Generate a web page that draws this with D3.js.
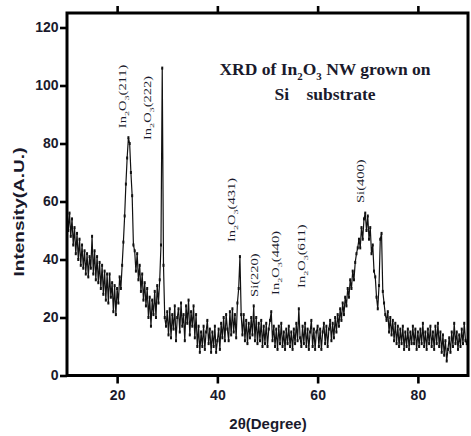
<!DOCTYPE html>
<html>
<head>
<meta charset="utf-8">
<script src="https://cdn.jsdelivr.net/npm/d3@7"></script>
<style>
  html, body { margin: 0; padding: 0; background: #fff; }
  svg { display: block; }
</style>
</head>
<body>
<svg id="chart" width="471" height="436"></svg>
<script>
// XRD scan of In2O3 nanowires on Si: intensity (a.u.), one reading every 0.25° of 2θ.
// Each block holds the 40 readings of one ten-degree span, starting at its label.
const scanStep = 0.25;
const scan10 = [57,50,56,48,54,45,51,42,49,40, 47,38,45,37,43,35,42,34,41,37,
                48,35,43,33,41,32,39,30,38,28, 36,26,35,25,35,27,32,22,31,21];
const scan20 = [30,25,34,30,38,46,55,66,75,82, 80,70,62,45,43,36,42,33,38,29,
                35,26,32,24,30,20,27,17,26,21, 29,20,31,25,33,45,106,38,20,17];
const scan30 = [22,14,23,13,21,16,24,12,20,23, 15,25,17,21,12,24,18,26,14,22,
                17,24,13,21,10,17,8,15,10,17, 9,15,19,11,16,8,15,10,17,8];
const scan40 = [12,16,9,18,13,20,12,21,16,12, 22,14,23,15,21,13,25,30,41,21,
                14,21,12,19,11,18,13,20,14,24, 12,20,11,18,12,19,10,17,11,18];
const scan50 = [10,16,19,22,12,17,10,16,9,17, 11,18,10,15,9,16,11,17,10,15,
                9,16,11,18,12,23,13,10,17,11, 18,10,16,9,15,19,10,16,9,15];
const scan60 = [17,10,16,9,15,18,11,17,10,16, 19,12,18,13,20,15,21,17,23,19,
                25,21,27,24,30,27,33,30,36,33, 39,42,44,47,44,51,47,54,56,50];
const scan70 = [55,47,51,42,45,36,34,27,23,31, 47,49,29,25,21,19,22,15,20,14,
                19,12,18,11,17,10,16,11,17,9, 15,10,16,9,15,11,17,11,16,9];
const scan80 = [15,10,16,11,18,10,15,9,16,11, 17,10,15,9,17,11,18,10,15,8,
                14,7,12,5,9,13,8,15,10,18, 11,15,9,14,10,16,11,18,12,11];
const scan90 = [14];
const scanBlocks = [[10, scan10], [20, scan20], [30, scan30], [40, scan40],
                    [50, scan50], [60, scan60], [70, scan70], [80, scan80], [90, scan90]];

const xDomain = [10, 90];
const yDomain = [0, 125];
const xTicks = [20, 40, 60, 80];
const yTicks = [0, 20, 40, 60, 80, 100, 120];

// Reflection labels ("_n" marks a subscript digit), the 2θ they sit at,
// and the intensity level where each label starts.
const peakNames  = ["In_2O_3(211)", "In_2O_3(222)", "In_2O_3(431)", "Si(220)",
                    "In_2O_3(440)", "In_2O_3(611)", "Si(400)"];
const peakAngles = [21.7, 26.7, 43.5, 48.1, 52.3, 57.5, 69.35];
const peakBase   = [85.3, 81.2, 46.0, 27.1, 27.8, 30.2, 59.5];

const titleLine1 = "XRD of In_2O_3 NW grown on";
const titleLine2 = "Si    substrate";
const xTitle = "2θ(Degree)";
const yTitle = "Intensity(A.U.)";

// ---- layout ----
const ink = "#1a1a2c";
const plot = { left: 67, right: 468, top: 13, bottom: 375.5 };
const svg = d3.select("#chart");

const x = d3.scaleLinear().domain(xDomain).range([plot.left, plot.right]);
const y = d3.scaleLinear().domain(yDomain).range([plot.bottom, plot.top]);

const points = [];
scanBlocks.forEach(([start, vals]) => {
  vals.forEach((v, i) => points.push([start + i * scanStep, v]));
});

svg.append("defs").append("clipPath").attr("id", "plotClip")
  .append("rect")
  .attr("x", plot.left).attr("y", plot.top)
  .attr("width", plot.right - plot.left).attr("height", plot.bottom - plot.top);

// ---- scan trace: line plus small square symbols ----
const trace = svg.append("g").attr("clip-path", "url(#plotClip)");
trace.append("path")
  .datum(points)
  .attr("fill", "none")
  .attr("stroke", "#111")
  .attr("stroke-width", 1.2)
  .attr("d", d3.line().x(d => x(d[0])).y(d => y(d[1])));
trace.selectAll("rect.pt")
  .data(points)
  .join("rect")
  .attr("class", "pt")
  .attr("x", d => x(d[0]) - 1)
  .attr("y", d => y(d[1]) - 1.5)
  .attr("width", 2).attr("height", 3)
  .attr("fill", "#111");

// ---- text with "_n" subscripts ----
function addRuns(textSel, str, size, subScale) {
  const shift = size * 0.3;
  let lowered = false;
  str.split(/(_\d)/).filter(s => s.length).forEach(p => {
    const ts = textSel.append("tspan");
    if (p.startsWith("_")) {
      ts.attr("font-size", size * subScale).attr("dy", lowered ? 0 : shift).text(p.slice(1));
      lowered = true;
    } else {
      if (lowered) ts.attr("dy", -shift);
      lowered = false;
      ts.text(p);
    }
  });
}

// ---- reflection labels ----
const labelFont = 10;
const labelStretch = 1.45;
peakNames.forEach((name, i) => {
  const t = svg.append("text")
    .attr("transform", `translate(${x(peakAngles[i])},${y(peakBase[i])}) rotate(-90) scale(${labelStretch},1)`)
    .attr("font-family", "'Liberation Serif', 'Times New Roman', serif")
    .attr("font-size", labelFont)
    .attr("fill", ink);
  addRuns(t, name, labelFont, 0.7);
});

// ---- title ----
const titleFont = 17.5;
const t1 = svg.append("text")
  .attr("x", 325).attr("y", 75)
  .attr("text-anchor", "middle")
  .attr("font-family", "'Liberation Serif', 'Times New Roman', serif")
  .attr("font-weight", "bold")
  .attr("font-size", titleFont)
  .attr("fill", ink);
addRuns(t1, titleLine1, titleFont, 0.62);
svg.append("text")
  .attr("x", 325).attr("y", 100)
  .attr("text-anchor", "middle")
  .attr("font-family", "'Liberation Serif', 'Times New Roman', serif")
  .attr("font-weight", "bold")
  .attr("font-size", titleFont)
  .attr("fill", ink)
  .style("white-space", "pre")
  .text(titleLine2);

// ---- axes ----
const tickFont = "bold 14px 'Liberation Sans', Arial, sans-serif";

const gLeft = svg.append("g")
  .attr("transform", `translate(${plot.left},0)`)
  .call(d3.axisLeft(y).tickValues(yTicks).tickSize(7).tickPadding(1.5));
const gBottom = svg.append("g")
  .attr("transform", `translate(0,${plot.bottom})`)
  .call(d3.axisBottom(x).tickValues(xTicks).tickSize(8).tickPadding(6.5));
const gTop = svg.append("g")
  .attr("transform", `translate(0,${plot.top})`)
  .call(d3.axisTop(x).tickValues(xTicks).tickSize(7).tickFormat(""));

[gLeft, gBottom, gTop].forEach(g => {
  g.select(".domain").remove();
  g.selectAll(".tick line").attr("stroke", "#000").attr("stroke-width", 2.6);
  g.selectAll(".tick text").style("font", tickFont).attr("fill", ink);
});

// frame
svg.append("rect")
  .attr("x", plot.left).attr("y", plot.top)
  .attr("width", plot.right - plot.left).attr("height", plot.bottom - plot.top)
  .attr("fill", "none").attr("stroke", "#000").attr("stroke-width", 3);

// axis titles
svg.append("text")
  .attr("x", 268).attr("y", 429)
  .attr("text-anchor", "middle")
  .style("font", "bold 15px 'Liberation Sans', Arial, sans-serif")
  .attr("fill", ink)
  .text(xTitle);
svg.append("text")
  .attr("transform", `translate(23.5,212) rotate(-90) scale(1.36,1)`)
  .attr("text-anchor", "middle")
  .style("font", "bold 14px 'Liberation Sans', Arial, sans-serif")
  .attr("fill", ink)
  .text(yTitle);
</script>
</body>
</html>
